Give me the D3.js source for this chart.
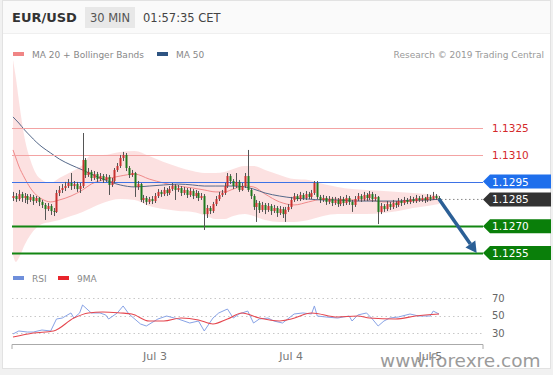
<!DOCTYPE html>
<html>
<head>
<meta charset="utf-8">
<script src="https://cdn.jsdelivr.net/npm/d3@7/dist/d3.min.js"></script>
<style>
  body { margin: 0; background: #f1f1f1; }
  svg { display: block; font-family: "DejaVu Sans", sans-serif; }
</style>
</head>
<body>
<svg id="chart" width="553" height="375"></svg>
<script>
// 30 min EUR/USD bars, Jul 2 -> Jul 5 early morning
var opens = [1.12858,1.12869,1.12852,1.12880,1.12858,1.12869,1.12847,1.12864,1.12841,1.12858,
  1.12836,1.12819,1.12796,1.12813,1.12785,1.12780,1.12886,1.12903,1.12914,1.12925,
  1.12942,1.12925,1.12936,1.12908,1.12925,1.13071,1.12987,1.13004,1.12970,1.12992,
  1.12964,1.12981,1.12959,1.12976,1.12931,1.12953,1.13015,1.13037,1.13082,1.13099,
  1.13026,1.12987,1.12998,1.12920,1.12936,1.12847,1.12858,1.12836,1.12852,1.12841,
  1.12869,1.12892,1.12880,1.12903,1.12886,1.12908,1.12925,1.12903,1.12914,1.12886,
  1.12903,1.12875,1.12897,1.12869,1.12886,1.12858,1.12869,1.12768,1.12802,1.12785,
  1.12824,1.12852,1.12875,1.12886,1.12925,1.12981,1.12953,1.12925,1.12948,1.12903,
  1.12925,1.12981,1.12903,1.12869,1.12808,1.12830,1.12791,1.12819,1.12791,1.12813,
  1.12785,1.12802,1.12774,1.12796,1.12768,1.12791,1.12808,1.12847,1.12869,1.12852,
  1.12875,1.12858,1.12880,1.12864,1.12886,1.12942,1.12864,1.12847,1.12858,1.12836,
  1.12852,1.12830,1.12847,1.12824,1.12852,1.12830,1.12858,1.12836,1.12819,1.12852,
  1.12869,1.12852,1.12875,1.12858,1.12880,1.12852,1.12864,1.12780,1.12813,1.12796,
  1.12824,1.12808,1.12830,1.12819,1.12841,1.12830,1.12847,1.12836,1.12852,1.12841,
  1.12858,1.12847,1.12858,1.12847,1.12864,1.12852,1.12869,1.12858];
var highs = [1.12892,1.12886,1.12903,1.12892,1.12886,1.12880,1.12880,1.12875,1.12869,1.12864,
  1.12847,1.12830,1.12830,1.12824,1.12802,1.12903,1.12925,1.12936,1.12948,1.12964,
  1.12998,1.12953,1.12948,1.12942,1.13222,1.13082,1.13026,1.13015,1.13009,1.13004,
  1.12998,1.12992,1.12992,1.12987,1.12970,1.13026,1.13054,1.13099,1.13116,1.13110,
  1.13037,1.13015,1.13004,1.12953,1.12942,1.12875,1.12869,1.12864,1.12869,1.12886,
  1.12908,1.12903,1.12920,1.12914,1.12925,1.12942,1.12936,1.12931,1.12925,1.12920,
  1.12914,1.12914,1.12908,1.12903,1.12897,1.12886,1.12880,1.12819,1.12813,1.12836,
  1.12869,1.12892,1.12903,1.12942,1.12998,1.12992,1.12964,1.12998,1.12959,1.12942,
  1.12998,1.13127,1.12914,1.12880,1.12847,1.12841,1.12836,1.12830,1.12830,1.12824,
  1.12819,1.12813,1.12813,1.12808,1.12808,1.12824,1.12864,1.12886,1.12880,1.12892,
  1.12886,1.12897,1.12892,1.12903,1.12953,1.12953,1.12875,1.12875,1.12869,1.12869,
  1.12864,1.12864,1.12858,1.12869,1.12864,1.12875,1.12869,1.12847,1.12869,1.12886,
  1.12880,1.12892,1.12886,1.12897,1.12892,1.12880,1.12869,1.12830,1.12824,1.12841,
  1.12836,1.12847,1.12841,1.12858,1.12852,1.12864,1.12858,1.12869,1.12864,1.12875,
  1.12869,1.12875,1.12864,1.12880,1.12875,1.12892,1.12880,1.12869];
var lows = [1.12841,1.12836,1.12841,1.12836,1.12830,1.12824,1.12836,1.12819,1.12830,1.12813,
  1.12802,1.12735,1.12785,1.12763,1.12757,1.12774,1.12869,1.12886,1.12897,1.12914,
  1.12903,1.12908,1.12892,1.12886,1.12914,1.12970,1.12976,1.12953,1.12959,1.12948,
  1.12953,1.12942,1.12948,1.12875,1.12920,1.12942,1.13004,1.13026,1.13065,1.13009,
  1.12970,1.12976,1.12864,1.12903,1.12836,1.12830,1.12819,1.12824,1.12824,1.12830,
  1.12858,1.12864,1.12869,1.12869,1.12875,1.12897,1.12847,1.12892,1.12869,1.12875,
  1.12858,1.12864,1.12852,1.12858,1.12841,1.12847,1.12679,1.12746,1.12768,1.12774,
  1.12813,1.12841,1.12864,1.12875,1.12914,1.12936,1.12908,1.12914,1.12892,1.12897,
  1.12914,1.12892,1.12852,1.12791,1.12724,1.12774,1.12780,1.12768,1.12780,1.12763,
  1.12774,1.12752,1.12763,1.12746,1.12724,1.12780,1.12796,1.12836,1.12841,1.12841,
  1.12847,1.12847,1.12852,1.12852,1.12875,1.12852,1.12830,1.12836,1.12819,1.12824,
  1.12813,1.12819,1.12808,1.12813,1.12813,1.12819,1.12819,1.12780,1.12808,1.12841,
  1.12836,1.12841,1.12841,1.12847,1.12836,1.12841,1.12712,1.12768,1.12780,1.12785,
  1.12791,1.12796,1.12802,1.12808,1.12813,1.12819,1.12824,1.12824,1.12830,1.12830,
  1.12836,1.12836,1.12830,1.12836,1.12841,1.12847,1.12847,1.12841];
var closes = [1.12869,1.12852,1.12880,1.12858,1.12869,1.12847,1.12864,1.12841,1.12858,1.12836,
  1.12819,1.12796,1.12813,1.12785,1.12780,1.12886,1.12903,1.12914,1.12925,1.12942,
  1.12925,1.12936,1.12908,1.12925,1.13071,1.12987,1.13004,1.12970,1.12992,1.12964,
  1.12981,1.12959,1.12976,1.12931,1.12953,1.13015,1.13037,1.13082,1.13099,1.13026,
  1.12987,1.12998,1.12920,1.12936,1.12847,1.12858,1.12836,1.12852,1.12841,1.12869,
  1.12892,1.12880,1.12903,1.12886,1.12908,1.12925,1.12903,1.12914,1.12886,1.12903,
  1.12875,1.12897,1.12869,1.12886,1.12858,1.12869,1.12768,1.12802,1.12785,1.12824,
  1.12852,1.12875,1.12886,1.12925,1.12981,1.12953,1.12925,1.12948,1.12903,1.12925,
  1.12981,1.12903,1.12869,1.12808,1.12830,1.12791,1.12819,1.12791,1.12813,1.12785,
  1.12802,1.12774,1.12796,1.12768,1.12791,1.12808,1.12847,1.12869,1.12852,1.12875,
  1.12858,1.12880,1.12864,1.12886,1.12942,1.12864,1.12847,1.12858,1.12836,1.12852,
  1.12830,1.12847,1.12824,1.12852,1.12830,1.12858,1.12836,1.12819,1.12852,1.12869,
  1.12852,1.12875,1.12858,1.12880,1.12852,1.12864,1.12780,1.12813,1.12796,1.12824,
  1.12808,1.12830,1.12819,1.12841,1.12830,1.12847,1.12836,1.12852,1.12841,1.12858,
  1.12847,1.12858,1.12847,1.12864,1.12852,1.12869,1.12858,1.12852];

// overlay readings (MA 20 + Bollinger, MA 50) at these bars
var overlayBars = [0,1,2,4,6,8,10,13,16,20,24,27,31,37,42,47,52,57,62,66,
  70,73,76,80,83,87,92,97,102,107,112,117,122,128,133,138,143,147];
var bandUpper = [1.13631,1.13530,1.13407,1.13194,1.13071,1.12992,1.12959,1.12942,1.12970,1.13004,
  1.13043,1.13099,1.13099,1.13116,1.13121,1.13093,1.13060,1.13032,1.13009,1.12998,
  1.12998,1.13004,1.13020,1.13037,1.13037,1.13015,1.12987,1.12964,1.12959,1.12936,
  1.12920,1.12908,1.12903,1.12897,1.12892,1.12886,1.12880,1.12875];
var ma20 = [1.13127,1.13082,1.13037,1.12970,1.12914,1.12875,1.12852,1.12836,1.12847,1.12869,
  1.12903,1.12936,1.12959,1.12981,1.12992,1.12964,1.12942,1.12925,1.12914,1.12903,
  1.12892,1.12892,1.12908,1.12925,1.12920,1.12880,1.12836,1.12819,1.12836,1.12852,
  1.12852,1.12847,1.12847,1.12836,1.12836,1.12841,1.12847,1.12852];
var bandLower = [1.12539,1.12500,1.12522,1.12595,1.12651,1.12690,1.12712,1.12724,1.12735,1.12757,
  1.12780,1.12802,1.12830,1.12852,1.12847,1.12813,1.12796,1.12785,1.12780,1.12763,
  1.12740,1.12740,1.12757,1.12768,1.12757,1.12735,1.12724,1.12724,1.12735,1.12757,
  1.12768,1.12768,1.12768,1.12774,1.12785,1.12802,1.12813,1.12824];
var ma50 = [1.13312,1.13295,1.13278,1.13239,1.13205,1.13172,1.13144,1.13110,1.13076,1.13043,
  1.13015,1.12992,1.12964,1.12931,1.12920,1.12925,1.12931,1.12936,1.12931,1.12925,
  1.12925,1.12925,1.12925,1.12920,1.12908,1.12886,1.12869,1.12858,1.12852,1.12847,
  1.12847,1.12841,1.12841,1.12841,1.12841,1.12847,1.12847,1.12852];

// RSI and its 9 period MA
var rsiBars = [0,2,5,7,10,13,15,17,20,21,23,24,27,30,32,33,36,38,40,44,
  46,50,53,57,61,64,66,69,71,74,76,78,81,83,85,88,90,93,97,100,
  103,104,105,108,112,114,116,117,119,122,124,126,128,130,133,137,140,144,145,147];
var rsiValues = [28.9,32.3,31.1,31.1,33.4,32.3,46.0,47.1,52.9,47.1,52.9,62.0,52.9,52.9,50.6,46.0,52.9,60.9,51.7,40.3,
  38.0,46.0,49.4,46.0,41.4,43.7,32.3,47.1,52.9,57.4,47.1,51.7,55.1,41.4,46.0,47.1,43.7,41.4,51.7,52.9,
  51.7,60.9,49.4,48.3,47.1,48.3,49.4,43.7,50.6,52.9,46.0,38.0,43.7,47.1,48.3,51.7,49.4,49.4,55.1,51.7];
var rsiMaBars = [0,7,14,21,26,31,37,41,47,52,58,64,69,74,79,85,92,96,103,112,119,123,132,139,147];
var rsiMaValues = [25.4,30.0,32.3,47.1,52.9,54.0,52.9,51.7,43.7,43.7,47.1,44.9,40.3,46.0,52.9,47.1,43.7,46.0,52.9,48.3,
  49.4,47.1,46.0,49.4,51.7];
var rsiLevels = [70, 50, 30];

var dateBars = [49, 96, 144];
var dateLabels = ["Jul 3", "Jul 4", "Jul 5"];

var levelValues = [1.1325, 1.1310, 1.1295, 1.1285, 1.1270, 1.1255];
var levelKinds = ["resistance", "resistance", "pivot", "last", "support", "support"];
var targetBar = 160;

var svg = d3.select("#chart");
var W = 553, H = 375;
var left = 12, right = 483;

var x = d3.scaleLinear().domain([0, closes.length - 1]).range([13, 439]);
var y = d3.scaleLinear().domain([1.1255, 1.1325]).range([253, 128]);
var ry = d3.scaleLinear().domain([30, 70]).range([333, 298]);

// card + header
svg.append("rect").attr("x", 2.5).attr("y", 0.5).attr("width", 548).attr("height", 368)
  .attr("fill", "#fff").attr("stroke", "#e2e2e2");
svg.append("rect").attr("x", 3).attr("y", 1).attr("width", 547).attr("height", 32).attr("fill", "#fafafa");
svg.append("line").attr("x1", 3).attr("x2", 550).attr("y1", 33.5).attr("y2", 33.5).attr("stroke", "#efefef");
svg.append("text").attr("x", 12).attr("y", 22).attr("font-size", 13).attr("font-weight", "bold")
  .attr("fill", "#333").text("EUR/USD");
svg.append("rect").attr("x", 85).attr("y", 7).attr("width", 50).attr("height", 21).attr("fill", "#e8e8e8");
svg.append("text").attr("x", 110).attr("y", 22).attr("text-anchor", "middle").attr("font-size", 11.5)
  .attr("fill", "#555").text("30 MIN");
svg.append("text").attr("x", 143).attr("y", 22).attr("font-size", 11.5).attr("fill", "#444").text("01:57:35 CET");

// legends
function legend(lx, ly, color, label) {
  svg.append("rect").attr("x", lx).attr("y", ly - 2).attr("width", 11).attr("height", 4).attr("fill", color);
  svg.append("text").attr("x", lx + 19).attr("y", ly + 3.5).attr("font-size", 9).attr("fill", "#888").text(label);
}
legend(13, 54, "#f08585", "MA 20 + Bollinger Bands");
legend(157, 54, "#2e5482", "MA 50");
svg.append("text").attr("x", 544).attr("y", 57.5).attr("text-anchor", "end").attr("font-size", 9)
  .attr("fill", "#999").text("Research \u00a9 2019 Trading Central");
legend(13, 278, "#6f8fdb", "RSI");
legend(58, 278, "#e8252c", "9MA");

// price panel
svg.append("clipPath").attr("id", "pclip").append("rect")
  .attr("x", left).attr("y", 58).attr("width", right - left).attr("height", 210);
var pg = svg.append("g").attr("clip-path", "url(#pclip)");

var ov = overlayBars.map(function(b, i) {
  return { b: b, up: bandUpper[i], lo: bandLower[i], mid: ma20[i], ma50: ma50[i] };
});
pg.append("path").datum(ov)
  .attr("d", d3.area().x(function(d) { return x(d.b); })
    .y0(function(d) { return y(d.lo); }).y1(function(d) { return y(d.up); })
    .curve(d3.curveMonotoneX))
  .attr("fill", "#fbdcdc").attr("opacity", 0.85);
pg.append("path").datum(ov)
  .attr("d", d3.line().x(function(d) { return x(d.b); }).y(function(d) { return y(d.mid); }).curve(d3.curveMonotoneX))
  .attr("fill", "none").attr("stroke", "#f08a8a").attr("stroke-width", 1);
pg.append("path").datum(ov)
  .attr("d", d3.line().x(function(d) { return x(d.b); }).y(function(d) { return y(d.ma50); }).curve(d3.curveMonotoneX))
  .attr("fill", "none").attr("stroke", "#55698a").attr("stroke-width", 1);

// level lines
var levelColor = { resistance: "#f3a3a3", pivot: "#3d72e6", last: "#999", support: "#138613" };
var tagColor = { pivot: "#1f6fec", last: "#333", support: "#0a7f0a" };
levelValues.forEach(function(v, i) {
  var k = levelKinds[i];
  if (k === "last") return;
  svg.append("line").attr("x1", left).attr("x2", right)
    .attr("y1", Math.round(y(v)) + 0.5).attr("y2", Math.round(y(v)) + 0.5)
    .attr("stroke", levelColor[k]).attr("stroke-width", k === "support" ? 2 : 1);
});

// candles
var cg = svg.append("g");
closes.forEach(function(c, i) {
  var o = opens[i], cx = Math.round(x(i)) + 0.5;
  var upBar = c >= o;
  cg.append("line").attr("x1", cx).attr("x2", cx).attr("y1", y(highs[i])).attr("y2", y(lows[i]))
    .attr("stroke", "#555").attr("stroke-width", 1);
  var top = y(Math.max(o, c)), bot = y(Math.min(o, c));
  cg.append("rect").attr("x", cx - 1).attr("width", 2)
    .attr("y", top).attr("height", Math.max(1, bot - top))
    .attr("fill", upBar ? "#c8312f" : "#1f7a1f");
});

// last price dotted guide
var last = closes[closes.length - 1];
svg.append("line").attr("x1", x(closes.length - 1) + 2).attr("x2", right)
  .attr("y1", y(1.1285)).attr("y2", y(1.1285))
  .attr("stroke", "#888").attr("stroke-dasharray", "1.5,2.5");

// target arrow
var ax0 = x(closes.length - 1), ay0 = y(last), ax1 = x(targetBar), ay1 = y(1.1255);
var ang = Math.atan2(ay1 - ay0, ax1 - ax0);
var hx = ax1 - 11 * Math.cos(ang), hy = ay1 - 11 * Math.sin(ang);
svg.append("line").attr("x1", ax0).attr("y1", ay0).attr("x2", hx).attr("y2", hy)
  .attr("stroke", "#2b5f96").attr("stroke-width", 3.5);
var px = -Math.sin(ang), py = Math.cos(ang);
svg.append("path")
  .attr("d", "M" + ax1 + "," + ay1 + "L" + (hx + 6 * px) + "," + (hy + 6 * py) + "L" + (hx - 6 * px) + "," + (hy - 6 * py) + "Z")
  .attr("fill", "#2b5f96");

// level labels
levelValues.forEach(function(v, i) {
  var k = levelKinds[i], cy = y(v);
  if (k === "resistance") {
    svg.append("text").attr("x", 492).attr("y", cy + 4).attr("font-size", 10.5)
      .attr("fill", "#d42a2a").text(v.toFixed(4));
    return;
  }
  svg.append("path")
    .attr("d", "M" + right + "," + cy + "L" + (right + 7) + "," + (cy - 7) + "L551," + (cy - 7) +
      "L551," + (cy + 7) + "L" + (right + 7) + "," + (cy + 7) + "Z")
    .attr("fill", tagColor[k]);
  svg.append("text").attr("x", 492).attr("y", cy + 4).attr("font-size", 10.5)
    .attr("fill", "#fff").text(v.toFixed(4));
});

// RSI panel
rsiLevels.forEach(function(v) {
  svg.append("line").attr("x1", left).attr("x2", right)
    .attr("y1", Math.round(ry(v)) + 0.5).attr("y2", Math.round(ry(v)) + 0.5)
    .attr("stroke", "#c8c8c8").attr("stroke-dasharray", "1.5,3");
  svg.append("text").attr("x", 492).attr("y", ry(v) + 3.5).attr("font-size", 10)
    .attr("fill", "#666").text(v);
});
svg.append("path").datum(rsiBars)
  .attr("d", d3.line().x(function(d) { return x(d); }).y(function(d, i) { return ry(rsiValues[i]); }))
  .attr("fill", "none").attr("stroke", "#88a3e6").attr("stroke-width", 1);
svg.append("path").datum(rsiMaBars)
  .attr("d", d3.line().x(function(d) { return x(d); }).y(function(d, i) { return ry(rsiMaValues[i]); })
    .curve(d3.curveMonotoneX))
  .attr("fill", "none").attr("stroke", "#e5474f").attr("stroke-width", 1.1);

// time axis
svg.append("path").attr("d", "M" + left + ",349V344.5H" + right + "V349")
  .attr("fill", "none").attr("stroke", "#aaa").attr("stroke-width", 1);
dateBars.forEach(function(b, i) {
  svg.append("text").attr("x", x(b)).attr("y", 360).attr("text-anchor", "middle")
    .attr("font-size", 11).attr("fill", "#777").text(dateLabels[i]);
});

// watermark
svg.append("text").attr("x", 380).attr("y", 367).attr("font-size", 18.5)
  .attr("fill", "#8a8a8a").attr("opacity", 0.85).text("www.forexre.com");
</script>
</body>
</html>
